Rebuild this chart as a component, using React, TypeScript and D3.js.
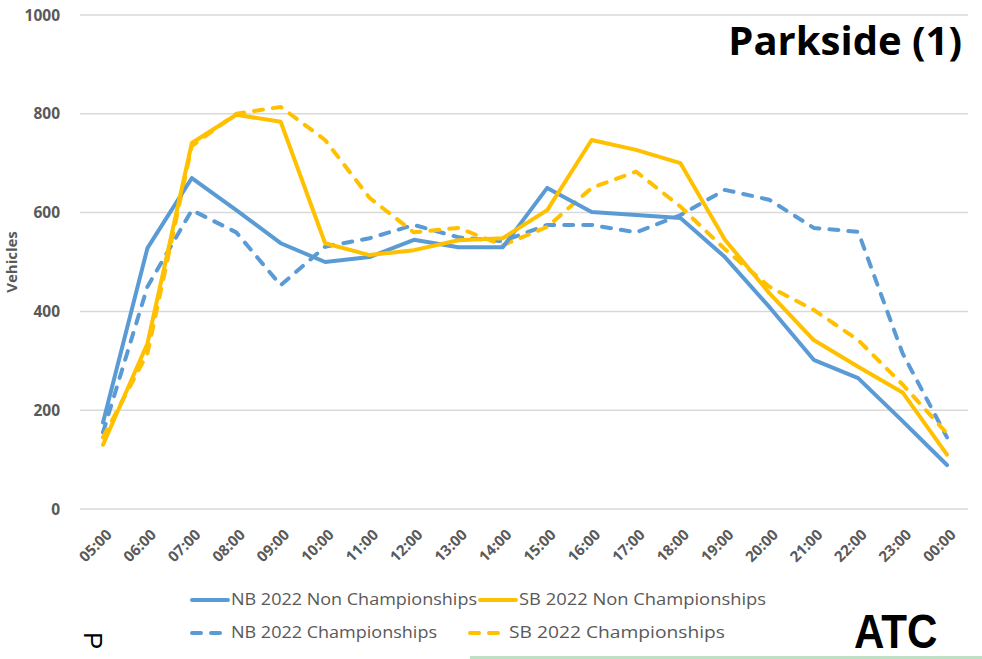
import React from "react";
import * as d3 from "d3";

const hours = ["05:00","06:00","07:00","08:00","09:00","10:00","11:00","12:00","13:00","14:00","15:00","16:00","17:00","18:00","19:00","20:00","21:00","22:00","23:00","00:00"];
const nbNon = [175, 528, 670, 605, 538, 500, 510, 545, 530, 530, 650, 601, 595, 589, 510, 409, 302, 265, 178, 89];
const sbNon = [130, 335, 741, 798, 784, 538, 514, 524, 544, 548, 605, 747, 727, 700, 545, 437, 342, 288, 236, 110];
const nbCh = [155, 450, 605, 560, 453, 531, 548, 575, 550, 542, 575, 575, 560, 595, 646, 626, 569, 561, 315, 145];
const sbCh = [145, 315, 735, 800, 814, 747, 630, 560, 569, 534, 571, 650, 683, 612, 526, 450, 403, 342, 252, 153];
const yTicks = [0, 200, 400, 600, 800, 1000];
const seriesNames = ["NB 2022 Non Championships", "SB 2022 Non Championships", "NB 2022 Championships", "SB 2022 Championships"];

const BLUE = "#5B9BD5";
const YELLOW = "#FFC000";
const GRAY = "#595959";

export default function App() {
  const W = 982, H = 659;
  const x = d3.scalePoint<string>().domain(hours).range([103, 947]);
  const y = d3.scaleLinear().domain([0, 1000]).range([509, 15]);
  const line = d3.line<number>().x((_, i) => x(hours[i]) as number).y((d) => y(d));

  const series = [
    { name: seriesNames[0], data: nbNon, color: BLUE, dash: false },
    { name: seriesNames[1], data: sbNon, color: YELLOW, dash: false },
    { name: seriesNames[2], data: nbCh, color: BLUE, dash: true },
    { name: seriesNames[3], data: sbCh, color: YELLOW, dash: true },
  ];
  const drawOrder = [2, 3, 0, 1];

  const legendPos = [
    { lx: 190, ly: 600, tw: 246 },
    { lx: 478, ly: 600, tw: 247 },
    { lx: 190, ly: 633, tw: 206 },
    { lx: 468, ly: 633, tw: 216 },
  ];

  const font = "'Open Sans', 'Noto Sans', sans-serif";

  return (
    <svg width={W} height={H} style={{ position: "absolute", left: 0, top: 0, background: "#fff" }} fontFamily={font}>
      <rect x={0} y={0} width={W} height={H} fill="#fff" />
      {yTicks.map((t) => (
        <g key={t}>
          <line x1={80} x2={968} y1={y(t)} y2={y(t)} stroke="#d9d9d9" strokeWidth={1.5} />
          <text x={60} y={y(t)} dy="0.36em" textAnchor="end" fontSize={15.5} fontWeight={700} fill={GRAY}>{t}</text>
        </g>
      ))}
      <text transform={`translate(17,262) rotate(-90)`} textAnchor="middle" fontSize={15} fontWeight={700} fill={GRAY}>Vehicles</text>
      {hours.map((h) => (
        <text key={h} transform={`translate(${(x(h) as number) + 6},${532}) rotate(-45)`} textAnchor="end" dy="0.35em" fontSize={15} fontWeight={700} fill={GRAY}>{h}</text>
      ))}
      {drawOrder.map((i) => {
        const s = series[i];
        return (
          <path key={s.name} d={line(s.data) || ""} fill="none" stroke={s.color} strokeWidth={4}
            strokeLinejoin="round" strokeLinecap="round" strokeDasharray={s.dash ? "9 10" : undefined} />
        );
      })}
      {series.map((s, i) => {
        const p = legendPos[i];
        return (
          <g key={s.name}>
            <line x1={p.lx + 2} x2={p.lx + 38} y1={p.ly} y2={p.ly} stroke={s.color} strokeWidth={4} strokeLinecap="round" strokeDasharray={s.dash ? "9 10" : undefined} />
            <text x={p.lx + 41} y={p.ly} dy="0.35em" fontSize={15.5} fill={GRAY} textLength={p.tw} lengthAdjust="spacingAndGlyphs">{s.name}</text>
          </g>
        );
      })}
      <text x={962} y={55} textAnchor="end" fontSize={40} fontWeight={700} fill="#000">Parkside (1)</text>
      <text transform="translate(854,648) scale(0.86,1)" fontSize={49} fontWeight={700} fill="#000" fontFamily="'Liberation Sans', Arial, sans-serif">ATC</text>
      <text transform="translate(84,632) rotate(90)" fontSize={26} fill="#000" fontFamily="'Liberation Sans', Arial, sans-serif">P</text>
      <rect x={470} y={656} width={512} height={3} fill="#bfe0c4" />
    </svg>
  );
}
